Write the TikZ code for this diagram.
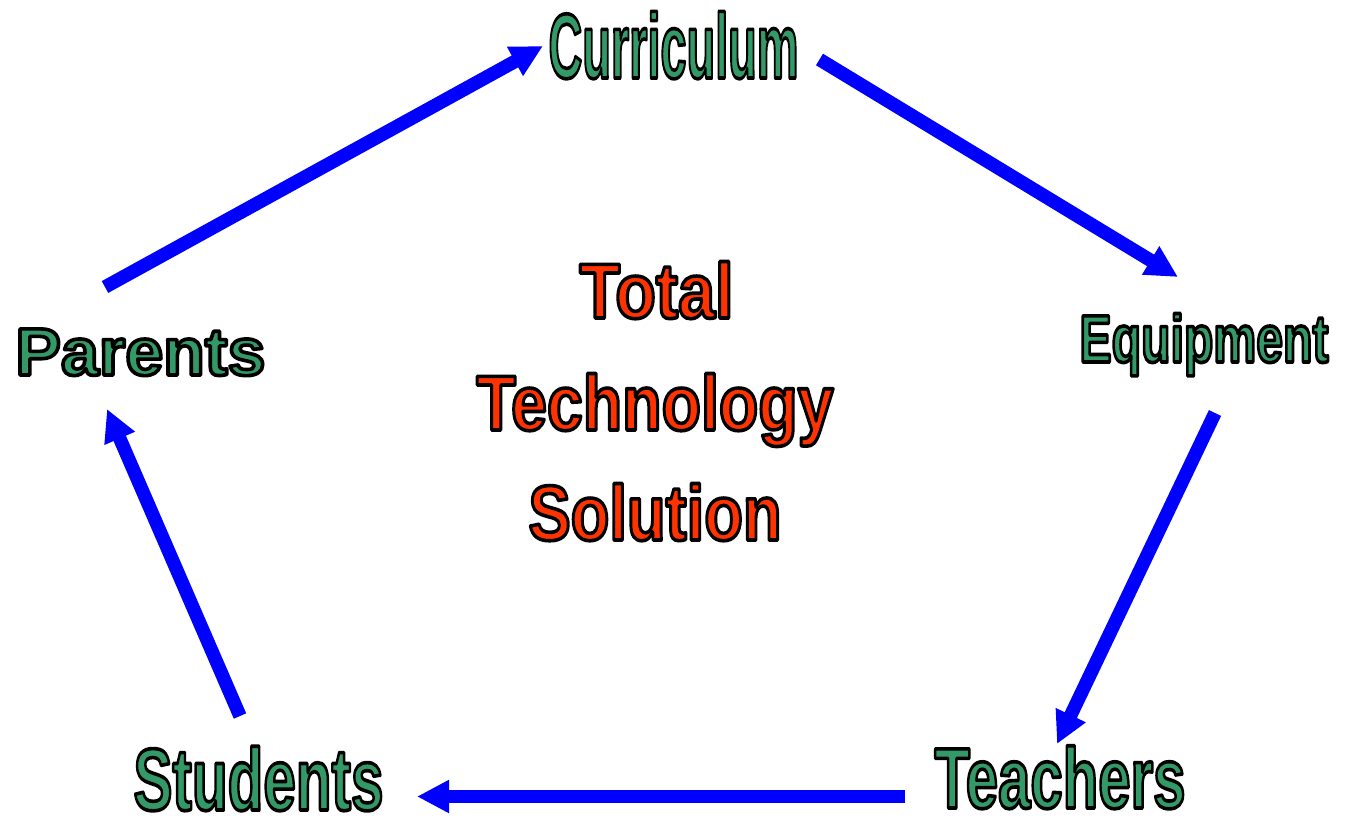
\documentclass[tikz,border=0pt]{standalone}
\usepackage{fontspec}
\setmainfont{Liberation Sans}
\usepackage{graphicx}
\usetikzlibrary{arrows.meta}
\definecolor{tgreen}{HTML}{339966}
\definecolor{tred}{HTML}{FF3300}
\definecolor{tblue}{HTML}{0000FF}
\newcommand\outlined[3]{\raisebox{0pt}[\height][0pt]{\resizebox{#1}{\height}{\fontsize{#2}{#2}\selectfont\bfseries\special{pdf:literal direct 2 Tr 3.6 w 0 0 0 RG 1 j}#3\special{pdf:literal direct 0 Tr}}}}
\tikzset{
  lbl/.style={anchor=base, inner sep=0pt, text=tgreen},
  redlbl/.style={anchor=base, inner sep=0pt, text=tred},
  flow/.style={draw=tblue, line width=13.5pt, -{Triangle[length=32pt,width=31pt]}},
}
\begin{document}
\begin{tikzpicture}[x=1pt,y=-1pt]
\useasboundingbox (0,0) rectangle (1347,820);
% labels
\node[lbl] (cur) at (673.5,78) {\outlined{250pt}{92}{Curriculum}};
\node[lbl] (par) at (140.5,375) {\outlined{250pt}{67}{Parents}};
\node[lbl] (equ) at (1204,362) {\outlined{249pt}{67}{Equipment}};
\node[lbl] (tea) at (1060,808) {\outlined{251pt}{86}{Teachers}};
\node[lbl] (stu) at (258.5,810) {\outlined{250pt}{88}{Students}};
\node[redlbl] (tot) at (656.5,318) {\outlined{154pt}{78}{Total}};
\node[redlbl] (tec) at (655,430) {\outlined{357pt}{78}{Technology}};
\node[redlbl] (sol) at (655,540) {\outlined{253pt}{78}{Solution}};
% connector end points
\coordinate (p1) at (105,287);
\coordinate (c1) at (543,46);
\coordinate (c2) at (819.5,59.5);
\coordinate (e1) at (1178,277);
\coordinate (e2) at (1215,413);
\coordinate (t1) at (1057,744);
\coordinate (t2) at (905,796.5);
\coordinate (s1) at (417,796.5);
\coordinate (s2) at (240,716);
\coordinate (p2) at (107,409);
% connectors
\draw[flow] (p1) -- (c1);
\draw[flow] (c2) -- (e1);
\draw[flow] (e2) -- (t1);
\draw[flow] (t2) -- (s1);
\draw[flow] (s2) -- (p2);
\end{tikzpicture}
\end{document}
